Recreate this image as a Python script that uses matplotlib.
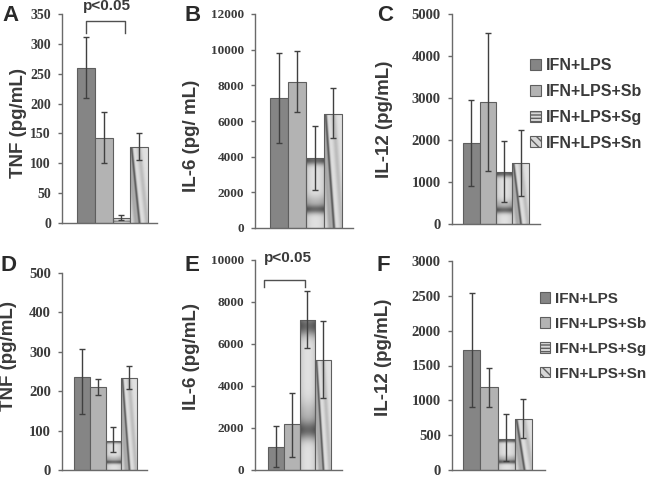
import numpy as np
import matplotlib
matplotlib.use('Agg')
import matplotlib.pyplot as plt
from matplotlib.patches import Patch

groups = ['IFN+LPS', 'IFN+LPS+Sb', 'IFN+LPS+Sg', 'IFN+LPS+Sn']

a_vals = [260, 143, 9, 127]
a_lo = [51, 43, 4, 22]
a_hi = [52, 43, 5, 23]

b_vals = [7300, 8200, 3950, 6420]
b_lo = [2525, 1720, 1800, 1365]
b_hi = [2530, 1740, 1780, 1410]

c_vals = [1921, 2913, 1246, 1444]
c_lo = [1008, 1643, 714, 777]
c_hi = [1031, 1627, 738, 794]

d_vals = [236, 210, 74, 233]
d_lo = [94, 19, 29, 27]
d_hi = [71, 20, 34, 31]

e_vals = [1100, 2170, 7165, 5244]
e_lo = [945, 1540, 1340, 1810]
e_hi = [980, 1500, 1370, 1875]

f_vals = [1720, 1185, 444, 731]
f_lo = [813, 278, 310, 268]
f_hi = [821, 282, 358, 282]

ylabels = ['TNF (pg/mL)', 'IL-6 (pg/ mL)', 'IL-12 (pg/mL)',
           'TNF (pg/mL)', 'IL-6 (pg/mL)', 'IL-12 (pg/mL)']
letters = ['A', 'B', 'C', 'D', 'E', 'F']
ymax = [350, 12000, 5000, 500, 10000, 3000]
ystep = [50, 2000, 1000, 100, 2000, 500]

SANS = 'Liberation Sans'
SERIF = 'Liberation Serif'
DARK = '#3a3a3a'
SPINE = '#6a6a6a'
C1 = '#858585'
C2 = '#b3b3b3'

fig = plt.figure(figsize=(6.5, 4.78), dpi=100)
W, H = 650.0, 478.0

def px_axes(x0, x1, ytop, ybot):
    return fig.add_axes([x0 / W, 1 - ybot / H, (x1 - x0) / W, (ybot - ytop) / H])

axes_px = [(62, 157, 14, 223), (255, 353, 14, 228), (452, 540, 14, 224),
           (62, 147, 273, 470), (255, 342, 260, 470), (452, 545, 261, 470)]
xlims = [(-1.35, 4.0), (-1.33, 4.1), (-1.17, 4.17),
         (-1.26, 4.13), (-1.33, 4.2), (-1.14, 4.25)]
label_coords = [(-0.37, 0.48), (-0.56, 0.43), (-0.67, 0.5),
                (-0.53, 0.58), (-0.63, 0.54), (-0.645, 0.54)]
tick_sizes = [10, 9.5, 10.5, 10.5, 9.5, 10.5]

data = [(a_vals, a_lo, a_hi), (b_vals, b_lo, b_hi), (c_vals, c_lo, c_hi),
        (d_vals, d_lo, d_hi), (e_vals, e_lo, e_hi), (f_vals, f_lo, f_hi)]

def sg_texture(n=300, m=40):
    t = np.linspace(0, 1, n)[:, None]
    s = np.linspace(0, 1, m)[None, :]
    k = 1.45
    fr = (t * k + 0.12) % 1.0
    v = 0.88 - 0.42 * np.exp(-((fr - 0.5) / 0.09) ** 2) - 0.15 * np.exp(-((fr - 0.65) / 0.14) ** 2)
    v = v - 0.10 * (np.abs(s - 0.5) * 2) ** 2
    return np.clip(v, 0, 1)

def sn_texture(n=300, m=60):
    t = np.linspace(0, 1, n)[:, None]
    s = np.linspace(0, 1, m)[None, :]
    u = s - 0.45 * (1 - t)
    v = 0.88 - 0.5 * np.exp(-((u - 0.08) / 0.07) ** 2)
    v = v - 0.22 * np.exp(-((u + 0.12) / 0.16) ** 2)
    v = v - 0.14 * np.exp(-((u - 0.5) / 0.14) ** 2)
    return np.clip(v, 0, 1)

tex = {2: sg_texture(), 3: sn_texture()}

for i in range(6):
    x0, x1, yt, yb = axes_px[i]
    ax = px_axes(x0, x1, yt, yb)
    vals, lo, hi = data[i]
    xs = np.arange(len(vals))
    bars = ax.bar(xs, vals, width=1.0, color=[C1, C2, 'none', 'none'],
                  edgecolor='#5e5e5e', linewidth=0.8, zorder=2)
    for j in (2, 3):
        b = bars[j]
        bx, bw, bh = b.get_x(), b.get_width(), b.get_height()
        im = ax.imshow(tex[j], extent=(bx, bx + bw, 0, bh), origin='lower',
                       aspect='auto', cmap='gray', vmin=0, vmax=1, zorder=1.5,
                       interpolation='bilinear')
        im.set_clip_path(b)
    ax.errorbar(xs, vals, yerr=[lo, hi], fmt='none', ecolor='#404040',
                elinewidth=1.0, capsize=2, capthick=1.0, zorder=3)
    ax.set_xlim(*xlims[i])
    ax.set_ylim(0, ymax[i])
    ax.set_yticks(np.arange(0, ymax[i] + 1, ystep[i]))
    ax.set_xticks([])
    for sp in ('top', 'right'):
        ax.spines[sp].set_visible(False)
    for sp in ('left', 'bottom'):
        ax.spines[sp].set_color(SPINE)
        ax.spines[sp].set_linewidth(1.0)
    ax.tick_params(axis='y', length=3, width=1, color=SPINE, pad=5,
                   labelsize=tick_sizes[i], labelcolor=DARK)
    for lab in ax.get_yticklabels():
        lab.set_fontfamily(SERIF)
        lab.set_fontweight('bold')
    ax.set_ylabel(ylabels[i], fontfamily=SANS, fontweight='bold',
                  fontsize=13.5, color=DARK)
    ax.yaxis.set_label_coords(*label_coords[i])

    if i == 0:
        ax.plot([0.0, 0.0, 2.2, 2.2], [319, 338, 338, 319], color='#505050',
                lw=1.0, clip_on=False, zorder=4)
        ax.text(1.2, 352, 'p<0.05', ha='center', va='bottom', fontfamily=SANS,
                fontweight='bold', fontsize=11, color=DARK, clip_on=False)
    if i == 4:
        ax.plot([-0.75, -0.75, 1.85, 1.85], [8726, 9057, 9057, 8726],
                color='#505050', lw=1.0, clip_on=False, zorder=4)
        ax.text(0.77, 9764, 'p<0.05', ha='center', va='bottom', fontfamily=SANS,
                fontweight='bold', fontsize=11, color=DARK, clip_on=False)

letter_px = [(2, 5), (185, 5), (377, 5), (0, 255), (185, 255), (377, 255)]
for (lx, ly), L in zip(letter_px, letters):
    fig.text(lx / W, 1 - ly / H, L, ha='left', va='top', fontfamily=SANS,
             fontweight='bold', fontsize=16, color='#2a2a2a')

handles = [Patch(facecolor=C1, edgecolor='#5e5e5e', lw=0.8),
           Patch(facecolor=C2, edgecolor='#5e5e5e', lw=0.8),
           Patch(facecolor='#d8d8d8', edgecolor='#5e5e5e', lw=0.8, hatch='-----'),
           Patch(facecolor='#d8d8d8', edgecolor='#5e5e5e', lw=0.8, hatch='\\\\\\\\')]

for (lx, ly, fs) in [(530, 58, 11.5), (540, 292, 11)]:
    leg = fig.legend(handles, groups, loc='upper left',
                     bbox_to_anchor=(lx / W, 1 - ly / H), frameon=False,
                     borderpad=0, borderaxespad=0, handlelength=0.68,
                     handleheight=0.68, handletextpad=0.3,
                     labelspacing=0.68 * 11.5 / fs,
                     prop={'family': SANS, 'weight': 'bold', 'size': fs})
    for t in leg.get_texts():
        t.set_color(DARK)

fig.savefig('out.png', dpi=100, facecolor='white')
